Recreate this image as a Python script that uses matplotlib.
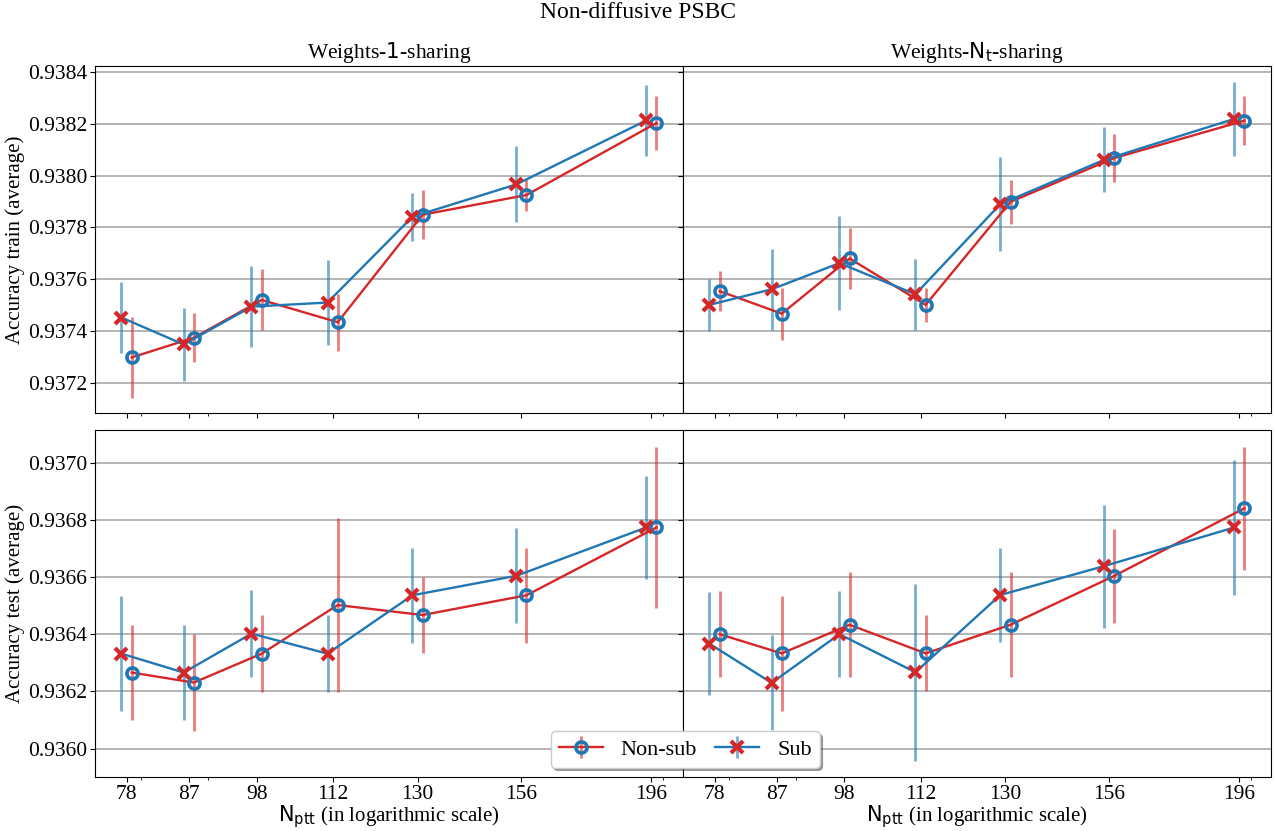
import numpy as np
import matplotlib.pyplot as plt
import matplotlib.ticker as ticker

plt.rcParams['font.family'] = ['Liberation Serif', 'DejaVu Serif']
plt.rcParams['mathtext.fontset'] = 'dejavusans'

n_ptt = [78, 87, 98, 112, 130, 156, 196]

# training accuracy, weights-1-sharing
nonsub_train_1 = [0.937298, 0.937374, 0.937520, 0.937434, 0.937849, 0.937925, 0.938203]
nonsub_train_1_err = [0.000156, 0.000094, 0.000118, 0.000110, 0.000095, 0.000062, 0.000106]
sub_train_1 = [0.937452, 0.937348, 0.937494, 0.937510, 0.937841, 0.937966, 0.938213]
sub_train_1_err = [0.000137, 0.000140, 0.000157, 0.000165, 0.000093, 0.000147, 0.000137]

# training accuracy, weights-Nt-sharing
nonsub_train_nt = [0.937554, 0.937467, 0.937680, 0.937501, 0.937899, 0.938068, 0.938212]
nonsub_train_nt_err = [0.000077, 0.000101, 0.000116, 0.000065, 0.000085, 0.000093, 0.000094]
sub_train_nt = [0.937501, 0.937561, 0.937662, 0.937542, 0.937890, 0.938061, 0.938219]
sub_train_nt_err = [0.000100, 0.000156, 0.000182, 0.000137, 0.000182, 0.000125, 0.000142]

# test accuracy, weights-1-sharing
nonsub_test_1 = [0.936266, 0.936231, 0.936332, 0.936502, 0.936467, 0.936536, 0.936773]
nonsub_test_1_err = [0.000166, 0.000169, 0.000135, 0.000304, 0.000134, 0.000165, 0.000280]
sub_test_1 = [0.936332, 0.936266, 0.936402, 0.936332, 0.936536, 0.936604, 0.936773]
sub_test_1_err = [0.000202, 0.000166, 0.000152, 0.000135, 0.000165, 0.000166, 0.000181]

# test accuracy, weights-Nt-sharing
nonsub_test_nt = [0.936400, 0.936333, 0.936433, 0.936333, 0.936433, 0.936604, 0.936840]
nonsub_test_nt_err = [0.000150, 0.000200, 0.000183, 0.000133, 0.000183, 0.000165, 0.000216]
sub_test_nt = [0.936367, 0.936230, 0.936400, 0.936267, 0.936537, 0.936638, 0.936773]
sub_test_nt_err = [0.000180, 0.000166, 0.000150, 0.000310, 0.000165, 0.000215, 0.000236]

panels = [
    [(nonsub_train_1, nonsub_train_1_err, sub_train_1, sub_train_1_err),
     (nonsub_train_nt, nonsub_train_nt_err, sub_train_nt, sub_train_nt_err)],
    [(nonsub_test_1, nonsub_test_1_err, sub_test_1, sub_test_1_err),
     (nonsub_test_nt, nonsub_test_nt_err, sub_test_nt, sub_test_nt_err)],
]

fig, axes = plt.subplots(2, 2, figsize=(12.76, 8.31), dpi=100, sharex=True, sharey='row')
fig.subplots_adjust(left=0.0745, right=0.996, top=0.9205, bottom=0.065, wspace=0, hspace=0.05)

x = np.array(n_ptt, dtype=float)
shift = 1.009

for i in range(2):
    for j in range(2):
        ax = axes[i, j]
        ns, ns_err, sb, sb_err = panels[i][j]
        ax.errorbar(x * shift, ns, yerr=ns_err, color='tab:red', lw=1.7,
                    marker='o', ms=8, mfc='none', mec='tab:blue', mew=2.6,
                    elinewidth=2, ecolor=(0.839, 0.153, 0.157, 0.6), label='Non-sub')
        ax.errorbar(x / shift, sb, yerr=sb_err, color='tab:blue', lw=1.7,
                    marker='x', ms=9, mec='tab:red', mew=3,
                    elinewidth=2, ecolor=(0.122, 0.467, 0.706, 0.6), label='Sub')
        ax.set_xscale('log')
        ax.set_xlim(73.8, 207.2)
        ax.set_xticks(n_ptt)
        ax.xaxis.set_major_formatter(ticker.FixedFormatter([str(v) for v in n_ptt]))
        ax.xaxis.set_minor_formatter(ticker.NullFormatter())
        ax.yaxis.grid(True, color='#a8a8a8', lw=1.2)
        ax.set_axisbelow(True)
        ax.tick_params(labelsize=15.5)
        ax.tick_params(axis='x', pad=2)
        ax.tick_params(axis='y', pad=2)
        ax.yaxis.set_major_formatter(ticker.FormatStrFormatter('%.4f'))

axes[0, 0].set_ylim(0.937084, 0.938423)
axes[0, 0].set_yticks(np.arange(0.9372, 0.93845, 0.0002))
axes[1, 0].set_ylim(0.935901, 0.937113)
axes[1, 0].set_yticks(np.arange(0.9360, 0.93705, 0.0002))

axes[0, 0].set_title(r'Weights-$\mathrm{1}$-sharing', fontsize=15.5)
axes[0, 1].set_title(r'Weights-$\mathrm{N_t}$-sharing', fontsize=15.5)
axes[0, 0].set_ylabel('Accuracy train (average)', fontsize=15, labelpad=2)
axes[1, 0].set_ylabel('Accuracy test (average)', fontsize=15, labelpad=2)
for ax in axes[1]:
    ax.set_xlabel(r'$\mathrm{N_{ptt}}$ (in logarithmic scale)', fontsize=15, labelpad=0)

fig.suptitle('Non-diffusive PSBC', fontsize=17, y=0.997)

handles, labels = axes[0, 0].get_legend_handles_labels()
fig.legend(handles, labels, loc='lower center', bbox_to_anchor=(0.537, 0.063),
           ncol=2, fontsize=16, shadow=True, framealpha=1, borderpad=0.35,
           columnspacing=0.8, handlelength=2.0)

plt.savefig('out.png')
